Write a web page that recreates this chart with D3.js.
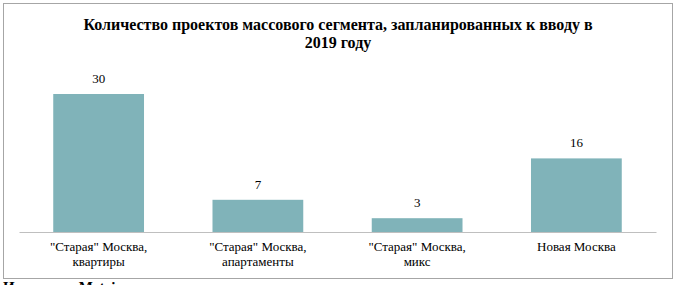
<!DOCTYPE html>
<meta charset="utf-8">
<head>
<style>
  body { margin: 0; background: #fff; overflow: hidden; }
</style>
</head>
<script src="https://d3js.org/d3.v7.min.js"></script>
<body>
<div id="chart"></div>
</body>
<script>
  // data
  var titleLines = ["Количество проектов массового сегмента, запланированных к вводу в", "2019 году"];
  var categories = [["\"Старая\" Москва,", "квартиры"], ["\"Старая\" Москва,", "апартаменты"], ["\"Старая\" Москва,", "микс"], ["Новая Москва"]];
  var values = [30, 7, 3, 16];

  var W = 677, H = 285;
  var serif = "'Liberation Serif', 'Times New Roman', serif";
  var svg = d3.select("#chart").append("svg").attr("width", W).attr("height", H);

  // chart frame
  svg.append("rect").attr("x", 3.5).attr("y", 3.5).attr("width", 669).attr("height", 275)
    .style("fill", "none").style("stroke", "#a6a6a6").style("stroke-width", 1);

  // title
  svg.append("g").selectAll("text").data(titleLines).enter().append("text")
    .attr("x", 338).attr("y", function(d, i) { return 29.5 + i * 18; })
    .style("font-family", serif)
    .style("text-anchor", "middle").style("font-size", "16px").style("font-weight", "bold")
    .text(function(d) { return d; });

  var x = d3.scaleBand().domain(d3.range(values.length)).range([19, 656])
    .paddingInner(0.43).paddingOuter(0.215);
  var y = d3.scaleLinear().domain([0, 35]).range([232, 71]);

  // bars
  svg.append("g").selectAll("rect").data(values).enter().append("rect")
    .attr("x", function(d, i) { return x(i); })
    .attr("y", function(d) { return y(d); })
    .attr("width", x.bandwidth())
    .attr("height", function(d) { return y(0) - y(d); })
    .style("fill", "#80b3b9");

  // value labels
  svg.append("g").selectAll("text").data(values).enter().append("text")
    .attr("x", function(d, i) { return x(i) + x.bandwidth() / 2; })
    .attr("y", function(d) { return y(d) - 11; })
    .style("font-family", serif)
    .style("text-anchor", "middle").style("font-size", "13px")
    .text(function(d) { return d; });

  // x axis
  var xAxis = svg.append("g").attr("transform", "translate(0,232)")
    .call(d3.axisBottom(x).tickSize(0).tickFormat(""));
  xAxis.select(".domain").attr("stroke", "#bfbfbf");

  // category labels (two lines)
  var lab = svg.append("g").selectAll("text").data(categories).enter().append("text")
    .attr("x", function(d, i) { return x(i) + x.bandwidth() / 2; })
    .attr("y", 251)
    .style("font-family", serif)
    .style("text-anchor", "middle").style("font-size", "13px");
  lab.selectAll("tspan").data(function(d) { return d; }).enter().append("tspan")
    .attr("x", function() { return d3.select(this.parentNode).attr("x"); })
    .attr("dy", function(d, i) { return i ? 15 : 0; })
    .text(function(d) { return d; });

  // source line, cut off by the window edge as in the original
  svg.append("text").attr("x", 3).attr("y", 292)
    .style("font-family", serif)
    .style("font-size", "15px").style("font-weight", "bold")
    .text("Источник: Metrium");
</script>
